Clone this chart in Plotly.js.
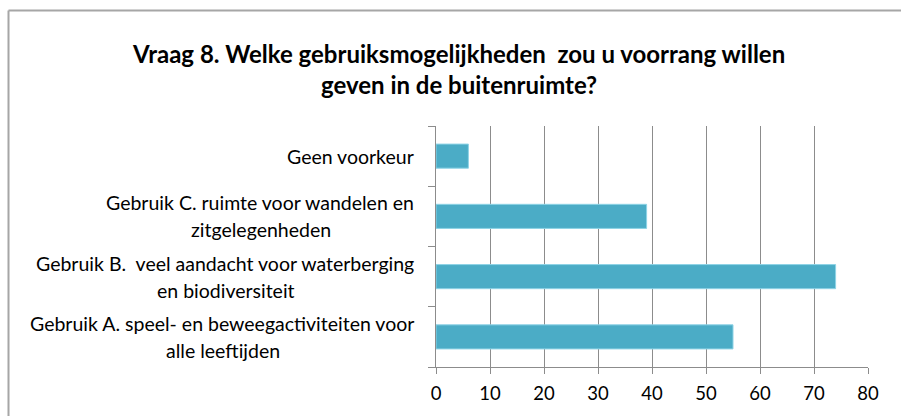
<!DOCTYPE html>
<html>
<head>
<meta charset="utf-8">
<script src="https://cdn.plot.ly/plotly-3.0.1.min.js"></script>
<style>
html,body{margin:0;padding:0;background:#fff;overflow:hidden;}
#chart{width:901px;height:416px;}
</style>
</head>
<body>
<div id="chart"></div>
<script>
const categories = ["Gebruik A", "Gebruik B", "Gebruik C", "Geen voorkeur"];
const labelLines = [
  ["Gebruik A. speel- en beweegactiviteiten voor", "alle leeftijden"],
  ["Gebruik B.  veel aandacht voor waterberging", "en biodiversiteit"],
  ["Gebruik C. ruimte voor wandelen en", "zitgelegenheden"],
  ["Geen voorkeur"]
];
const values = [55, 74, 39, 6];
const tickValues = [0, 10, 20, 30, 40, 50, 60, 70, 80];
const titleText = "<b>Vraag 8. Welke gebruiksmogelijkheden  zou u voorrang willen<br>geven in de buitenruimte?</b>";

const FONT = "Lato, 'Open Sans', sans-serif";
const LABEL_SIZE = 19.5;

const W = 901, H = 416;
const PLOT_L = 436, PLOT_W = 432, PLOT_T = 126, PLOT_H = 241;
const LABEL_RIGHT = 416;
const LINE_GAP = 13.5;

const cv = document.createElement('canvas').getContext('2d');
cv.font = LABEL_SIZE + "px Lato";
function textW(s) { return cv.measureText(s.replace(/  /g, '\u00a0 ')).width; }
function px2paperX(px) { return (px - PLOT_L) / PLOT_W; }
function px2paperY(py) { return (PLOT_T + PLOT_H - py) / PLOT_H; }

const trace = {
  type: 'bar',
  orientation: 'h',
  x: values,
  y: categories,
  width: 0.4,
  marker: {color: '#4BACC6', line: {color: '#8ED3E6', width: 1}},
  hoverinfo: 'x'
};

const annotations = [];
labelLines.forEach((lines, i) => {
  const font = {family: FONT, size: LABEL_SIZE, color: '#000'};
  if (lines.length === 1) {
    annotations.push({xref: 'paper', yref: 'y', x: px2paperX(LABEL_RIGHT), y: categories[i],
      xanchor: 'right', yanchor: 'middle', text: lines[0], showarrow: false, font});
  } else {
    const w1 = textW(lines[0]);
    annotations.push({xref: 'paper', yref: 'y', x: px2paperX(LABEL_RIGHT), y: categories[i],
      xanchor: 'right', yanchor: 'middle', yshift: LINE_GAP, text: lines[0], showarrow: false, font});
    annotations.push({xref: 'paper', yref: 'y', x: px2paperX(LABEL_RIGHT - w1 / 2), y: categories[i],
      xanchor: 'center', yanchor: 'middle', yshift: -LINE_GAP, text: lines[1], showarrow: false, font});
  }
});

const FL = px2paperX(8.5), FR = px2paperX(W), FT = px2paperY(10.5), FB = px2paperY(H);

const layout = {
  width: W, height: H,
  margin: {l: PLOT_L, r: W - PLOT_L - PLOT_W, t: PLOT_T, b: H - PLOT_T - PLOT_H, pad: 0},
  paper_bgcolor: '#fff',
  plot_bgcolor: '#fff',
  showlegend: false,
  bargap: 0.6,
  title: {
    text: titleText,
    x: 0.5095, xanchor: 'center', xref: 'container',
    y: 1 - 62.5/416, yanchor: 'middle', yref: 'container',
    font: {family: FONT, size: 24, color: '#000'}
  },
  xaxis: {
    range: [0, 80],
    tickvals: tickValues,
    ticktext: tickValues.map(String),
    showgrid: true, gridcolor: '#8C8C8C', gridwidth: 1,
    zeroline: false,
    showline: true, linecolor: '#8C8C8C', linewidth: 1,
    ticks: 'outside', ticklen: 6, tickcolor: '#8C8C8C',
    ticklabelstandoff: 4,
    tickfont: {family: FONT, size: 18.5, color: '#000'},
    fixedrange: true
  },
  yaxis: {
    type: 'category',
    categoryorder: 'array', categoryarray: categories,
    showticklabels: false,
    showgrid: false, zeroline: false,
    showline: true, linecolor: '#8C8C8C', linewidth: 1,
    ticks: 'outside', ticklen: 7, tickcolor: '#8C8C8C',
    tickson: 'boundaries',
    fixedrange: true
  },
  annotations: annotations,
  shapes: [
    {type: 'line', xref: 'paper', yref: 'paper', x0: FL, x1: FR, y0: FT, y1: FT,
     line: {color: '#A6A6A6', width: 2}, layer: 'below'},
    {type: 'line', xref: 'paper', yref: 'paper', x0: FL, x1: FL, y0: FT, y1: FB,
     line: {color: '#A6A6A6', width: 2}, layer: 'below'}
  ]
};

Plotly.newPlot('chart', [trace], layout, {displayModeBar: false, staticPlot: true});
</script>
</body>
</html>
